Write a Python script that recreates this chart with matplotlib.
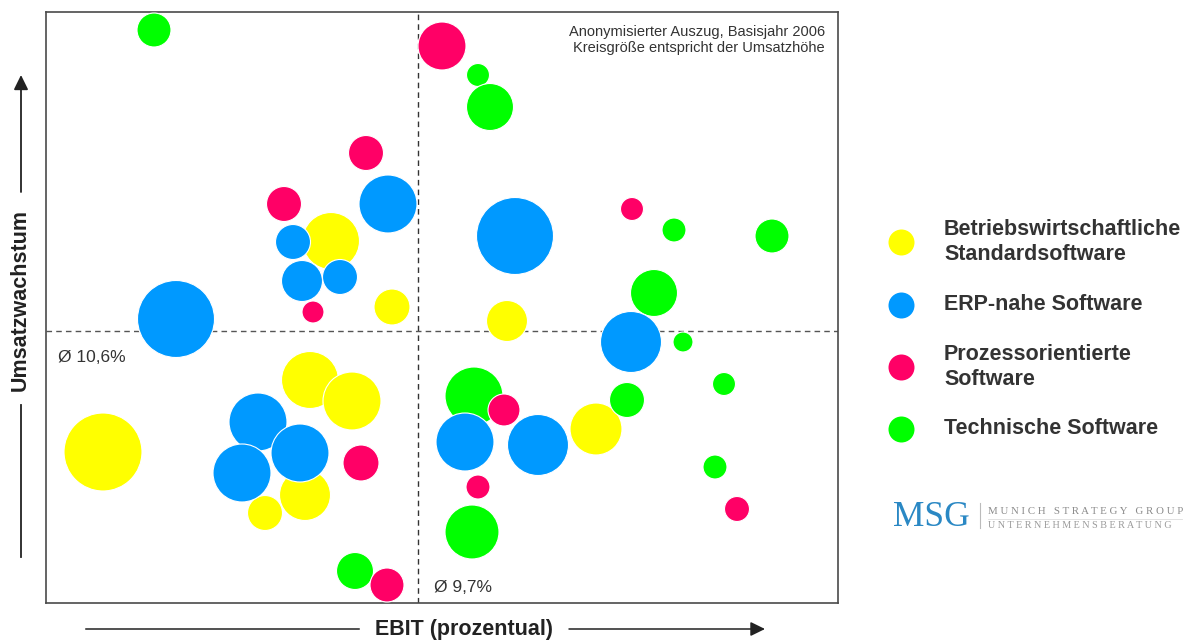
import matplotlib.pyplot as plt
from matplotlib.lines import Line2D

plt.rcParams['font.family'] = ['Liberation Sans', 'DejaVu Sans']

# bubble positions (EBIT score, growth score), diameter ~ Umsatz
std_x = [285, 346, 461, 264, 306, 259, 219, 57, 550]
std_y = [362, 296, 282, 223, 202, 108, 90, 151, 174]
std_d = [57, 36, 41, 57, 58, 51, 35, 78, 52]

erp_x = [342, 247, 256, 294, 130, 469, 585, 212, 254, 196, 419, 492]
erp_y = [399, 361, 322, 326, 284, 367, 261, 181, 150, 130, 161, 158]
erp_d = [58, 35, 41, 35, 77, 77, 61, 58, 58, 58, 58, 61]

proz_x = [396, 320, 238, 267, 586, 315, 341, 458, 432, 691]
proz_y = [557, 450, 399, 291, 394, 140, 18, 193, 116, 94]
proz_d = [48, 35, 35, 22, 23, 36, 34, 32, 24, 25]

tech_x = [108, 432, 444, 628, 726, 608, 637, 309, 428, 581, 678, 669, 426]
tech_y = [573, 528, 496, 373, 367, 310, 261, 32, 207, 203, 219, 136, 71]
tech_d = [34, 23, 47, 24, 34, 47, 20, 37, 58, 35, 23, 24, 54]

ebit_avg, ebit_label = 372, 'Ø 9,7%'
growth_avg, growth_label = 272, 'Ø 10,6%'

labels = ['Betriebswirtschaftliche\nStandardsoftware', 'ERP-nahe Software',
          'Prozessorientierte\nSoftware', 'Technische Software']
colors = ['#ffff00', '#0099ff', '#ff0066', '#00ff00']

series = [(std_x, std_y, std_d), (erp_x, erp_y, erp_d),
          (proz_x, proz_y, proz_d), (tech_x, tech_y, tech_d)]
draw_order = [0, 3, 1, 2]  # yellow, green, blue, pink on top

fig = plt.figure(figsize=(11.89, 6.41), dpi=100)
ax = fig.add_axes([46/1189, 38/641, 792/1189, 591/641])
ax.set_xlim(0, 792)
ax.set_ylim(0, 591)
ax.set_xticks([])
ax.set_yticks([])
for s in ax.spines.values():
    s.set_color('#4a4a4a')
    s.set_linewidth(1.2)

ax.axvline(ebit_avg, color='#333333', lw=1, ls=(0, (4, 3)), zorder=1)
ax.axhline(growth_avg, color='#555555', lw=1, ls=(0, (4, 3)), zorder=1)

for i in draw_order:
    xs, ys, ds = series[i]
    ax.scatter(xs, ys, s=[(d*0.72)**2 for d in ds], color=colors[i],
               edgecolor='white', linewidth=0.8, zorder=2 + draw_order.index(i))

ax.text(12, 246, growth_label, fontsize=12.5, color='#333333', va='center')
ax.text(388, 16, ebit_label, fontsize=12.5, color='#333333', va='center')
ax.text(779, 578, 'Anonymisierter Auszug, Basisjahr 2006\nKreisgröße entspricht der Umsatzhöhe',
        fontsize=10.5, color='#333333', ha='right', va='top', multialignment='right',
        linespacing=1.2)

# overlay in pixel units for axis labels, arrows, legend and logo
ov = fig.add_axes([0, 0, 1, 1], facecolor='none')
ov.set_xlim(0, 1189)
ov.set_ylim(641, 0)
ov.axis('off')

dark = '#222222'
head = '-|>,head_length=0.55,head_width=0.27'
ov.text(20, 300, 'Umsatzwachstum', rotation=90, fontsize=15.5, fontweight='bold',
        color=dark, ha='center', va='center')
ov.annotate('', xy=(21, 75), xytext=(21, 192),
            arrowprops=dict(arrowstyle=head, color=dark, lw=1.3, mutation_scale=16,
                            shrinkA=0, shrinkB=0))
ov.plot([21, 21], [405, 557], color=dark, lw=1.3)

ov.text(464, 630, 'EBIT (prozentual)', fontsize=15.5, fontweight='bold',
        color=dark, ha='center', va='center')
ov.plot([86, 359], [629, 629], color=dark, lw=1.1)
ov.annotate('', xy=(765, 629), xytext=(569, 629),
            arrowprops=dict(arrowstyle=head, color=dark, lw=1.1, mutation_scale=16,
                            shrinkA=0, shrinkB=0))

# legend
leg_y = [242, 305, 367, 429]
for lab, col, y in zip(labels, colors, leg_y):
    ov.add_line(Line2D([901], [y], marker='o', markersize=26*0.72, color=col,
                       markeredgewidth=0, linestyle=''))
    ov.text(944, y, lab, fontsize=15.5, fontweight='bold', color='#333333',
            va='center', linespacing=1.25)

# logo
serif = ['Liberation Serif', 'DejaVu Serif']
ov.text(893, 517, 'MSG', family=serif, fontsize=25.5, color='#2a88c4', va='center')
ov.plot([980, 980], [503, 528], color='#bbbbbb', lw=0.8)
ov.text(988, 511, 'M U N I C H   S T R A T E G Y   G R O U P',
        family=serif, fontsize=7.8, color='#8a8a8a', va='center')
ov.plot([988, 1182], [519, 519], color='#dddddd', lw=0.6)
ov.text(988, 526, 'U N T E R N E H M E N S B E R A T U N G',
        family=serif, fontsize=7.3, color='#9a9a9a', va='center')

fig.savefig('out.png', dpi=100)
plt.close(fig)
